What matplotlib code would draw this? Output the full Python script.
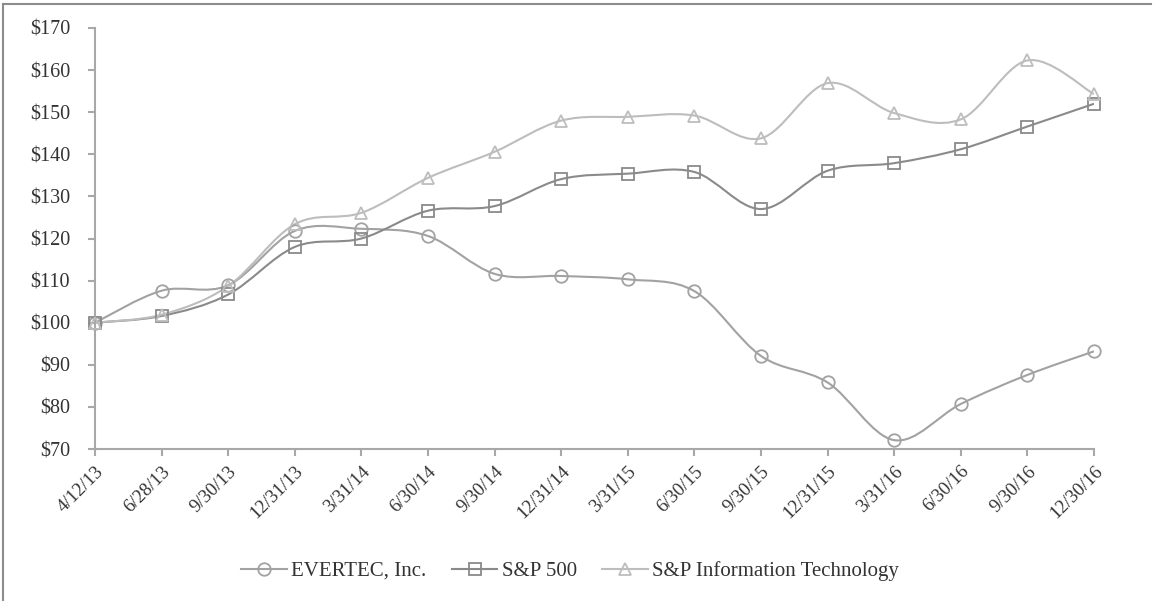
import numpy as np
import matplotlib
matplotlib.use("Agg")
import matplotlib.pyplot as plt
from matplotlib.path import Path
from matplotlib.patches import PathPatch
from matplotlib.lines import Line2D

dates = ["4/12/13", "6/28/13", "9/30/13", "12/31/13", "3/31/14", "6/30/14", "9/30/14",
         "12/31/14", "3/31/15", "6/30/15", "9/30/15", "12/31/15", "3/31/16", "6/30/16",
         "9/30/16", "12/30/16"]
evertec = [100.0, 107.6, 108.9, 121.8, 122.3, 120.6, 111.6, 111.1, 110.3, 107.5,
           92.1, 85.8, 72.1, 80.7, 87.6, 93.2]
sp500 = [100.0, 101.6, 106.7, 118.0, 120.0, 126.6, 127.7, 134.1, 135.4, 135.8,
         127.0, 136.1, 137.9, 141.2, 146.6, 152.0]
sp_it = [100.0, 101.9, 108.7, 123.4, 126.1, 134.4, 140.6, 148.0, 148.9, 149.2,
         143.8, 156.9, 149.8, 148.3, 162.3, 154.3]
series_names = ["EVERTEC, Inc.", "S&P 500", "S&P Information Technology"]
yticks = [70, 80, 90, 100, 110, 120, 130, 140, 150, 160, 170]

plt.rcParams['font.family'] = ['Liberation Serif', 'DejaVu Serif']

fig = plt.figure(figsize=(11.54, 6.01), dpi=100)
W, H = 1154, 601
ax = fig.add_axes([95 / W, 1 - 449 / H, (1094 - 95) / W, (449 - 28) / H])

x = np.arange(len(dates), dtype=float)


def smooth_path(xs, ys):
    pts = np.column_stack([xs, ys])
    n = len(pts)
    verts = [pts[0]]
    codes = [Path.MOVETO]
    for i in range(n - 1):
        p0 = pts[i - 1] if i > 0 else pts[i]
        p1 = pts[i]
        p2 = pts[i + 1]
        p3 = pts[i + 2] if i + 2 < n else pts[i + 1]
        c1 = p1 + (p2 - p0) / 6.0
        c2 = p2 - (p3 - p1) / 6.0
        verts += [c1, c2, p2]
        codes += [Path.CURVE4] * 3
    return Path(verts, codes)


styles = [
    (evertec, "o", "#a2a2a2"),
    (sp500, "s", "#8a8a8a"),
    (sp_it, "^", "#bdbdbd"),
]
handles = []
for (vals, mk, col), name in zip(styles, series_names):
    patch = PathPatch(smooth_path(x, np.array(vals)), facecolor="none",
                      edgecolor=col, lw=1.5, zorder=2)
    ax.add_patch(patch)
    ax.plot(x, vals, linestyle="none", marker=mk, markersize=9,
            markerfacecolor="none", markeredgecolor=col, markeredgewidth=1.3,
            zorder=3, clip_on=False)
    handles.append(Line2D([0], [0], color=col, lw=1.5, marker=mk, markersize=9,
                          markerfacecolor="none", markeredgecolor=col,
                          markeredgewidth=1.3))

ax.set_xlim(0, len(dates) - 1)
ax.set_ylim(70, 170)
ax.set_yticks(yticks)
ax.set_yticklabels([f"${v}" for v in yticks])
ax.set_xticks(x)
ax.set_xticklabels(dates, rotation=45, ha="right", rotation_mode="anchor")

for s in ["top", "right"]:
    ax.spines[s].set_visible(False)
for s in ["left", "bottom"]:
    ax.spines[s].set_color("#a8a8a8")
    ax.spines[s].set_linewidth(1.5)
ax.tick_params(axis="both", colors="#a8a8a8", width=1.5, length=5, labelcolor="#333333")
ax.tick_params(axis="y", pad=13, labelsize=14.5)
ax.tick_params(axis="x", pad=5, labelsize=13.5)

fig.legend(handles, series_names, loc="center", bbox_to_anchor=(570 / W, 1 - 571 / H),
           ncol=3, frameon=False, fontsize=15, handlelength=2.2, columnspacing=1.2,
           handletextpad=0.2, labelcolor="#333333")

fig.add_artist(Line2D([3 / W, 3 / W], [0, 1 - 4 / H], transform=fig.transFigure,
                      color="#8c8c8c", lw=1.5))
fig.add_artist(Line2D([3 / W, 1151 / W], [1 - 4 / H, 1 - 4 / H], transform=fig.transFigure,
                      color="#8c8c8c", lw=1.5))

fig.savefig("out.png", dpi=100, facecolor="white")
